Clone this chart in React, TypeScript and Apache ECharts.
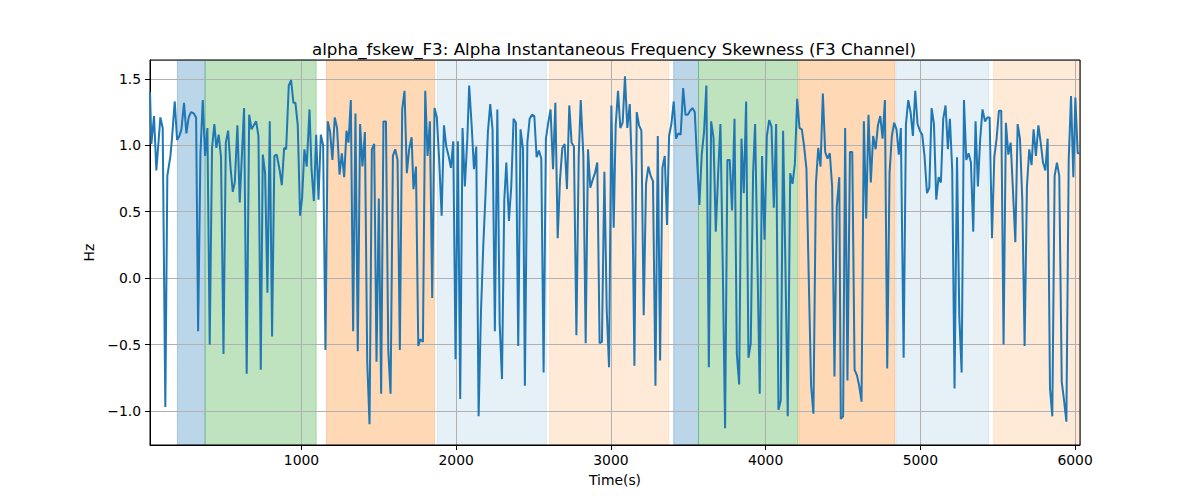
import * as echarts from "echarts";
import { useEffect, useRef } from "react";

// sample times (s)
const TIMES = [
  21, 30, 47, 62, 88, 103, 120, 133, 153, 163, 181, 196, 211, 224, 241, 256, 271, 286, 304, 319,
  332, 347, 362, 377, 392, 407, 422, 437, 450, 465, 480, 496, 511, 526, 541, 556, 569, 586, 601, 629,
  646, 662, 677, 692, 707, 722, 737, 750, 765, 780, 795, 810, 825, 840, 858, 873, 888, 901, 918, 933,
  948, 961, 976, 991, 1004, 1019, 1034, 1052, 1065, 1080, 1095, 1110, 1125, 1140, 1155, 1170, 1185, 1200, 1215, 1230,
  1246, 1261, 1276, 1291, 1304, 1319, 1334, 1349, 1364, 1379, 1394, 1410, 1425, 1440, 1455, 1470, 1485, 1500, 1515, 1530,
  1546, 1561, 1576, 1591, 1606, 1621, 1636, 1651, 1666, 1681, 1696, 1712, 1724, 1740, 1755, 1768, 1785, 1800, 1815, 1830,
  1845, 1860, 1875, 1890, 1906, 1921, 1936, 1951, 1966, 1981, 1996, 2011, 2026, 2041, 2056, 2072, 2084, 2100, 2115, 2130,
  2145, 2160, 2175, 2190, 2205, 2220, 2235, 2250, 2266, 2281, 2296, 2311, 2324, 2341, 2356, 2371, 2386, 2401, 2416, 2432,
  2444, 2460, 2475, 2490, 2505, 2520, 2535, 2550, 2565, 2580, 2595, 2610, 2626, 2641, 2656, 2671, 2686, 2701, 2716, 2731,
  2746, 2761, 2777, 2792, 2805, 2822, 2837, 2852, 2867, 2882, 2897, 2912, 2927, 2942, 2958, 2973, 2988, 3003, 3018, 3031,
  3046, 3061, 3076, 3091, 3106, 3122, 3137, 3152, 3167, 3182, 3197, 3212, 3227, 3242, 3257, 3272, 3288, 3303, 3318, 3333,
  3348, 3363, 3376, 3391, 3406, 3421, 3436, 3451, 3467, 3482, 3497, 3512, 3527, 3542, 3557, 3572, 3587, 3602, 3617, 3633,
  3648, 3663, 3678, 3693, 3708, 3723, 3738, 3753, 3768, 3783, 3799, 3814, 3829, 3844, 3859, 3874, 3889, 3904, 3919, 3932,
  3947, 3962, 3977, 3993, 4008, 4023, 4038, 4053, 4068, 4083, 4098, 4113, 4128, 4143, 4159, 4174, 4189, 4204, 4219, 4234,
  4249, 4264, 4279, 4294, 4309, 4325, 4340, 4355, 4370, 4385, 4400, 4415, 4430, 4445, 4460, 4476, 4486, 4501, 4514, 4529,
  4545, 4560, 4575, 4590, 4605, 4620, 4635, 4650, 4665, 4680, 4695, 4711, 4726, 4741, 4756, 4771, 4786, 4801, 4816, 4831,
  4846, 4861, 4874, 4892, 4907, 4922, 4937, 4952, 4967, 4982, 4997, 5012, 5027, 5043, 5058, 5073, 5088, 5103, 5118, 5133,
  5148, 5163, 5178, 5191, 5206, 5221, 5237, 5252, 5267, 5282, 5297, 5312, 5327, 5342, 5357, 5372, 5387, 5402, 5418, 5433,
  5448, 5463, 5478, 5493, 5508, 5523, 5538, 5553, 5569, 5584, 5599, 5614, 5629, 5644, 5659, 5674, 5689, 5704, 5719, 5732,
  5747, 5763, 5778, 5793, 5808, 5823, 5838, 5853, 5868, 5883, 5898, 5914, 5929, 5944, 5959, 5974, 5989, 6002, 6017, 6032,
];

// alpha frequency skewness (Hz), one per time above
const HZ = [
  1.4, 1.01, 1.22, 0.81, 1.21, 1.13, -0.97, 0.77, 0.92, 1.05, 1.33, 1.04, 1.07, 1.12, 1.32, 1.09, 1.21, 1.25, 1.24, 1.21,
  -0.4, 0.94, 1.34, 0.92, 1.13, -0.5, 0.98, 1.16, 0.98, 1.08, 0.91, -0.57, 1.02, 1.11, 0.84, 0.65, 0.72, 1.15, 0.57, 1.28,
  -0.72, 1.23, 1.12, 1.15, 1.18, 1.07, -0.69, 0.93, 0.79, -0.11, 1.18, -0.44, 0.92, 0.93, 0.82, 0.7, 0.98, 0.97, 1.45, 1.49,
  1.32, 1.32, 1.15, 0.47, 0.6, 0.97, 0.84, 1.27, 0.82, 0.58, 1.08, 0.59, 1.08, 1.0, -0.54, 1.18, 1.1, 0.89, 1.21, 1.13,
  0.78, 0.94, 0.76, 1.11, 1.02, 1.34, -0.4, 1.24, -0.55, 1.16, 0.84, 1.1, -0.63, -1.1, 0.97, 1.01, -0.63, 0.6, -0.87, 1.18,
  1.18, -0.54, -0.87, 0.92, 0.97, 0.89, -0.54, 1.27, 1.41, 0.79, 0.97, 1.06, 0.67, 0.84, -0.51, -0.46, -0.48, 1.41, 0.92, 1.18,
  -0.15, 1.28, 1.21, 0.89, 0.47, 1.15, 0.99, 0.92, 0.83, 1.03, -0.61, 1.03, -0.91, 1.13, 0.69, 1.05, 1.45, 1.15, 0.82, 0.99,
  -1.04, -0.26, 0.24, 0.64, 1.1, 1.31, 1.12, -0.4, 1.27, -0.34, -0.76, 0.59, 0.87, 0.43, 0.69, 1.2, 1.17, -0.51, 1.12, 0.97,
  -0.81, 1.02, 1.2, 1.23, 1.22, 0.91, 0.96, 0.9, -0.71, 1.05, 1.17, 1.27, 0.82, 1.32, 0.3, 0.74, 0.98, 1.01, 0.67, 1.3,
  1.02, 0.99, -0.43, 0.92, 1.34, 0.92, -0.49, 0.97, 0.68, 0.74, 0.79, 0.87, -0.49, -0.48, 0.8, -0.24, -0.67, 1.3, 0.38, 1.15,
  1.41, 1.13, 1.17, 1.52, 1.13, 1.31, 0.77, -0.66, 1.25, 1.15, 1.11, -0.28, 0.71, 0.84, 0.77, 0.73, -0.81, 1.07, -0.62, 0.83,
  0.92, 0.4, 1.07, 1.16, 1.33, 1.05, 1.09, 1.08, 1.43, 1.23, 1.23, 1.26, 1.28, 1.25, 0.89, 0.55, 0.93, 1.1, 1.45, -0.67,
  1.18, 1.06, 0.35, 0.78, 1.16, 0.09, -1.13, 0.89, 0.89, 0.51, 1.2, -0.57, -0.8, 1.05, 0.64, 1.33, -0.6, -0.49, 0.79, 1.16,
  0.14, -0.87, 0.92, 0.29, 1.07, 1.19, 1.14, 0.53, 1.16, -0.99, -0.92, 1.11, 0.09, -1.04, 0.79, 0.71, 0.86, 1.35, 1.13, 1.12,
  0.99, 0.82, -0.01, -0.81, -1.02, 0.71, 0.98, 0.84, 1.39, 0.95, 0.9, 0.94, 0.69, -0.74, 0.54, 0.76, -1.06, -1.04, 1.13, -0.77,
  0.95, 0.95, -0.69, -0.73, -0.81, -0.93, 1.18, 0.45, 1.23, 0.72, 1.07, 0.97, 1.15, 1.22, 1.05, 1.34, -0.68, 0.79, 1.07, 1.17,
  1.12, 0.93, 1.13, -0.6, 1.16, 1.34, 1.25, 1.07, 1.41, 1.16, 1.11, 1.08, 0.92, 0.64, 0.68, 1.28, 1.16, 0.59, 0.76, 0.72,
  1.2, 1.3, 0.97, 1.2, 0.82, -0.83, 0.91, -0.29, -0.71, 1.34, 0.89, 0.94, 0.87, 0.35, 1.18, 0.69, 1.05, 1.27, 1.18, 1.21,
  1.21, 0.3, 0.91, 1.05, 1.26, 1.26, -0.5, 1.17, 0.93, 1.02, 0.65, 0.27, 1.16, 1.05, 0.59, -0.51, 0.69, 0.97, 0.85, 1.12,
  0.92, 1.15, 1.02, 0.87, 0.81, 1.05, -0.83, -1.04, 0.77, 0.87, 0.77, -0.78, -0.92, -1.08, 0.89, 1.37, 0.76, 1.36, 0.94, 0.94,
];

// shaded segments
const BAND_START = [198, 377, 1162, 1877, 2604, 3406, 3566, 4215, 4842, 5474];
const BAND_END = [377, 1095, 1860, 2583, 3374, 3566, 4208, 4835, 5442, 6032];
const BAND_KIND = ["blue", "green", "orange", "paleBlue", "paleOrange", "blue", "green", "orange", "paleBlue", "paleOrange"];

const KIND_COLOR: Record<string, string> = {
  blue: "rgba(31,119,180,0.3)",
  green: "rgba(44,160,44,0.3)",
  orange: "rgba(255,127,14,0.3)",
  paleBlue: "rgba(31,119,180,0.11)",
  paleOrange: "rgba(255,127,14,0.16)",
};

const TITLE = "alpha_fskew_F3: Alpha Instantaneous Frequency Skewness (F3 Channel)";
const FONT = "DejaVu Sans";

export default function App() {
  const ref = useRef<HTMLDivElement | null>(null);

  useEffect(() => {
    if (!ref.current) return undefined;
    const chart = echarts.init(ref.current, undefined, { renderer: "svg" });

    const data = TIMES.map((t, i) => [t, HZ[i]]);
    const bands = BAND_START.map((s, i) => {
      const c = KIND_COLOR[BAND_KIND[i]];
      return [
        { xAxis: s, itemStyle: { color: c, borderColor: c, borderWidth: 1 } },
        { xAxis: BAND_END[i] },
      ];
    });

    const tickText = { color: "#000", fontSize: 13.9, fontFamily: FONT };

    chart.setOption({
      animation: false,
      backgroundColor: "#fff",
      textStyle: { fontFamily: FONT },
      title: {
        text: TITLE,
        left: 609,
        top: 35,
        textAlign: "center",
        textStyle: { fontSize: 16.7, fontWeight: "normal", color: "#000", fontFamily: FONT },
      },
      grid: {
        left: 150,
        right: 120,
        top: 60,
        bottom: 55,
        show: true,
        backgroundColor: "transparent",
        borderColor: "#000",
        borderWidth: 1,
        z: 4,
      },
      xAxis: {
        type: "value",
        min: TIMES[0],
        max: TIMES[TIMES.length - 1],
        minInterval: 1000,
        maxInterval: 1000,
        z: 3,
        name: "Time(s)",
        nameLocation: "middle",
        nameGap: 28,
        nameTextStyle: tickText,
        axisLine: { show: true, onZero: false, lineStyle: { color: "#000", width: 1 } },
        axisTick: { show: true, length: 5, lineStyle: { color: "#000", width: 1 } },
        axisLabel: {
          ...tickText,
          margin: 8,
          showMinLabel: false,
          showMaxLabel: false,
          formatter: (v: number) => String(v),
        },
        splitLine: { show: true, lineStyle: { color: "#b0b0b0", width: 1 } },
      },
      yAxis: {
        type: "value",
        min: -1.256,
        max: 1.642,
        minInterval: 0.5,
        maxInterval: 0.5,
        z: 3,
        name: "Hz",
        nameLocation: "middle",
        nameGap: 50,
        nameTextStyle: tickText,
        axisLine: { show: true, onZero: false, lineStyle: { color: "#000", width: 1 } },
        axisTick: { show: true, length: 5, lineStyle: { color: "#000", width: 1 } },
        axisLabel: {
          ...tickText,
          margin: 9,
          showMinLabel: false,
          showMaxLabel: false,
          formatter: (v: number) => v.toFixed(1).replace("-", "\u2212"),
        },
        splitLine: { show: true, lineStyle: { color: "#b0b0b0", width: 1 } },
      },
      series: [
        {
          type: "line",
          data,
          z: 5,
          showSymbol: false,
          symbol: "none",
          lineStyle: { color: "#1f77b4", width: 2 },
          markArea: { silent: true, z: 1, data: bands },
        },
      ],
    });

    return () => chart.dispose();
  }, []);

  return <div ref={ref} style={{ position: "fixed", left: 0, top: 0, width: 1200, height: 500 }} />;
}
